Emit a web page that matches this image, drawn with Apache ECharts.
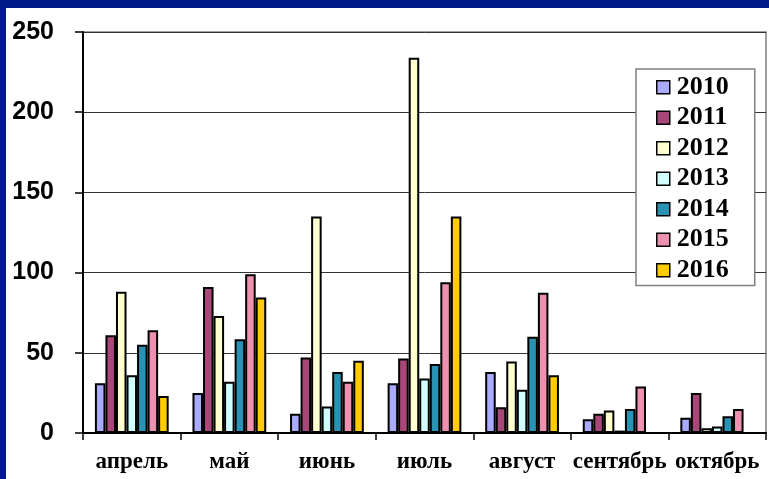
<!DOCTYPE html>
<html>
<head>
<meta charset="utf-8">
<script src="https://cdn.jsdelivr.net/npm/echarts@6/dist/echarts.min.js"></script>
<style>
  html, body { margin: 0; padding: 0; background: #fff; }
  #main { width: 769px; height: 479px; }
</style>
</head>
<body>
<div id="main"></div>
<script>
var myChart = echarts.init(document.getElementById('main'));

// месяцы
var months = ['апрель', 'май', 'июнь', 'июль', 'август', 'сентябрь', 'октябрь'];
var years = ['2010', '2011', '2012', '2013', '2014', '2015', '2016'];
var colors = ['#AAAAFF', '#A84878', '#FFFFD0', '#D0FFFF', '#2A93B3', '#EE90B0', '#FFCC00'];

// значения по годам
var v2010 = [31, 25, 12, 31, 38, 8.5, 9.5];
var v2011 = [61, 91, 47, 46.5, 16, 12, 25];
var v2012 = [88, 73, 135, 234, 44.5, 14, 3];
var v2013 = [36, 32, 16.5, 34, 27, 1.5, 4];
var v2014 = [55, 58.5, 38, 43, 60, 15, 10.5];
var v2015 = [64, 99, 32, 94, 87.5, 29, 15];
var v2016 = [23, 84.5, 45, 135, 36, 0, 0];
var values = [v2010, v2011, v2012, v2013, v2014, v2015, v2016];

var series = years.map(function (y, i) {
    return {
        name: y,
        type: 'bar',
        barWidth: '10.8%',
        barGap: '0%',
        itemStyle: {
            color: colors[i],
            borderColor: '#000',
            borderWidth: 2
        },
        data: values[i]
    };
});

var option = {
    backgroundColor: '#fff',
    animation: false,
    graphic: [
        // синяя рамка слайда
        { type: 'rect', left: 0, top: 0, shape: { width: 769, height: 8 }, style: { fill: '#001A8A' }, z: 10 },
        { type: 'rect', left: 0, top: 0, shape: { width: 6, height: 479 }, style: { fill: '#001A8A' }, z: 10 }
    ],
    grid: {
        left: 83,
        right: 3,
        top: 32,
        bottom: 46,
        show: true,
        borderColor: '#808080',
        borderWidth: 1.5,
        backgroundColor: 'transparent'
    },
    legend: {
        orient: 'vertical',
        left: 636,
        top: 69,
        data: years,
        icon: 'rect',
        itemWidth: 13,
        itemHeight: 13,
        itemGap: 0,
        padding: [3, 26, 0, 20],
        backgroundColor: '#fff',
        borderColor: '#808080',
        borderWidth: 1.5,
        itemStyle: { borderColor: '#000', borderWidth: 1.5 },
        textStyle: {
            fontFamily: 'Liberation Serif',
            fontWeight: 'bold',
            fontSize: 26,
            lineHeight: 30.5,
            color: '#000',
            padding: [0, 0, 0, 2]
        }
    },
    xAxis: {
        type: 'category',
        data: months,
        axisLine: { lineStyle: { color: '#000', width: 2 } },
        axisTick: { show: true, length: 7, lineStyle: { color: '#000', width: 1.5 } },
        axisLabel: {
            interval: 0,
            margin: 18,
            color: '#000',
            fontFamily: 'Liberation Serif',
            fontWeight: 'bold',
            fontSize: 23
        }
    },
    yAxis: {
        type: 'value',
        min: 0,
        max: 250,
        interval: 50,
        axisLine: { show: true, lineStyle: { color: '#000', width: 2 } },
        axisTick: { show: true, length: 8, lineStyle: { color: '#000', width: 1.5 } },
        splitLine: { lineStyle: { color: '#333', width: 1 } },
        axisLabel: {
            margin: 29,
            color: '#000',
            fontFamily: 'Liberation Sans',
            fontWeight: 'bold',
            fontSize: 25
        }
    },
    series: series
};

myChart.setOption(option);
</script>
</body>
</html>
